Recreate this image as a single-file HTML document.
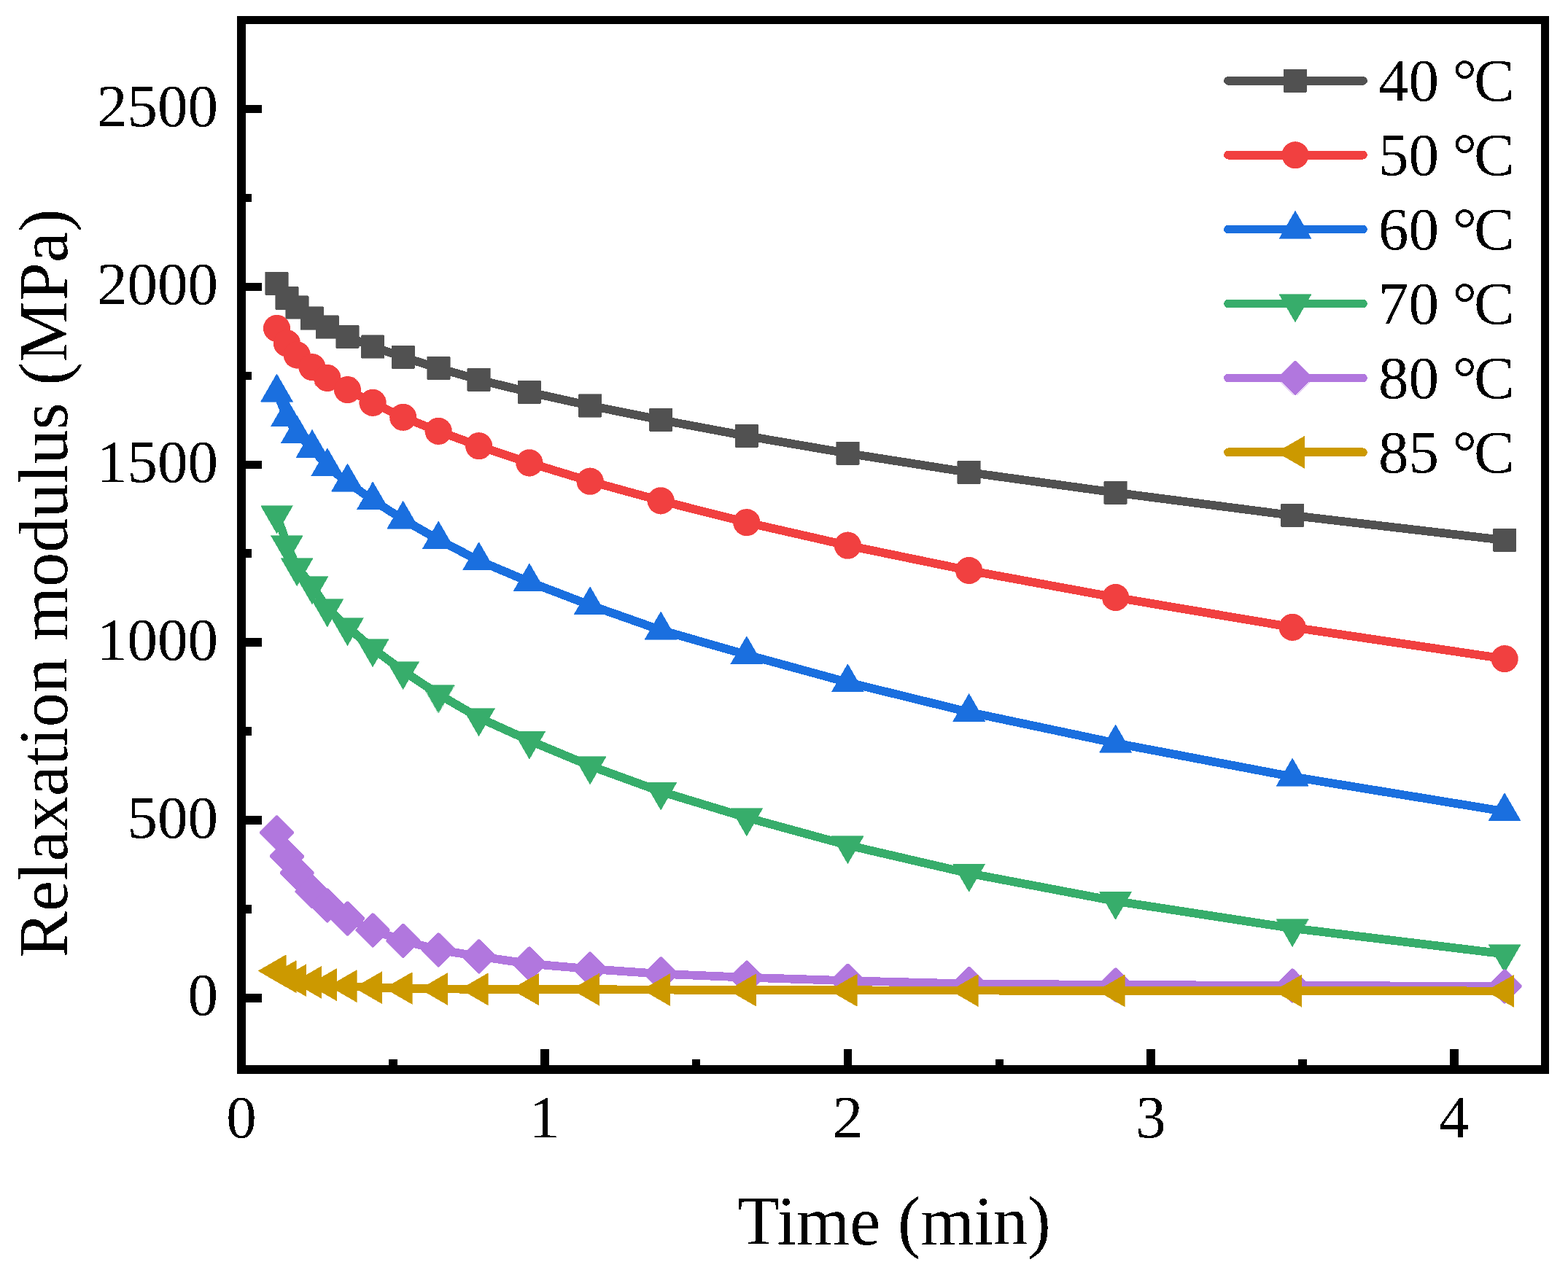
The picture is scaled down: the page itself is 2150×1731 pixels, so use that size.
<!DOCTYPE html><html><head><meta charset="utf-8"><title>Relaxation modulus vs time</title><style>html,body{margin:0;padding:0;background:#fff}svg{display:block}text{font-family:"Liberation Serif","Times New Roman",serif;fill:#000}</style></head><body>
<svg shape-rendering="crispEdges" width="2150" height="1731" viewBox="0 0 2150 1731">
<defs><filter id="bin" x="-5%" y="-5%" width="110%" height="110%"><feComponentTransfer><feFuncA type="discrete" tableValues="0 1"/></feComponentTransfer></filter></defs>
<rect width="2150" height="1731" fill="#fff"/>
<g><polyline points="379.5,389 393.4,408.8 407.2,421.7 428,436.7 448.8,448.7 476.5,461.8 511.1,475.7 552.7,489.8 601.2,505 656.6,520.9 725.9,538 809.1,556.4 906.1,576 1023.8,598 1162.4,621.8 1328.7,648 1529.6,675.7 1772.1,707 2063.1,741" fill="none" stroke="#515151" stroke-width="11.7" stroke-linejoin="round" stroke-linecap="butt"/>
<rect x="363.7" y="373.2" width="31.5" height="31.5" rx="1" fill="#515151" stroke="#515151" stroke-width="0.6"/>
<rect x="377.6" y="393.1" width="31.5" height="31.5" rx="1" fill="#515151" stroke="#515151" stroke-width="0.6"/>
<rect x="391.5" y="405.9" width="31.5" height="31.5" rx="1" fill="#515151" stroke="#515151" stroke-width="0.6"/>
<rect x="412.2" y="420.9" width="31.5" height="31.5" rx="1" fill="#515151" stroke="#515151" stroke-width="0.6"/>
<rect x="433" y="432.9" width="31.5" height="31.5" rx="1" fill="#515151" stroke="#515151" stroke-width="0.6"/>
<rect x="460.7" y="446.1" width="31.5" height="31.5" rx="1" fill="#515151" stroke="#515151" stroke-width="0.6"/>
<rect x="495.4" y="459.9" width="31.5" height="31.5" rx="1" fill="#515151" stroke="#515151" stroke-width="0.6"/>
<rect x="537" y="474.1" width="31.5" height="31.5" rx="1" fill="#515151" stroke="#515151" stroke-width="0.6"/>
<rect x="585.5" y="489.2" width="31.5" height="31.5" rx="1" fill="#515151" stroke="#515151" stroke-width="0.6"/>
<rect x="640.9" y="505.1" width="31.5" height="31.5" rx="1" fill="#515151" stroke="#515151" stroke-width="0.6"/>
<rect x="710.2" y="522.2" width="31.5" height="31.5" rx="1" fill="#515151" stroke="#515151" stroke-width="0.6"/>
<rect x="793.3" y="540.6" width="31.5" height="31.5" rx="1" fill="#515151" stroke="#515151" stroke-width="0.6"/>
<rect x="890.3" y="560.2" width="31.5" height="31.5" rx="1" fill="#515151" stroke="#515151" stroke-width="0.6"/>
<rect x="1008.1" y="582.2" width="31.5" height="31.5" rx="1" fill="#515151" stroke="#515151" stroke-width="0.6"/>
<rect x="1146.7" y="606" width="31.5" height="31.5" rx="1" fill="#515151" stroke="#515151" stroke-width="0.6"/>
<rect x="1312.9" y="632.2" width="31.5" height="31.5" rx="1" fill="#515151" stroke="#515151" stroke-width="0.6"/>
<rect x="1513.9" y="660" width="31.5" height="31.5" rx="1" fill="#515151" stroke="#515151" stroke-width="0.6"/>
<rect x="1756.3" y="691.2" width="31.5" height="31.5" rx="1" fill="#515151" stroke="#515151" stroke-width="0.6"/>
<rect x="2047.3" y="725.2" width="31.5" height="31.5" rx="1" fill="#515151" stroke="#515151" stroke-width="0.6"/>
</g>
<g><polyline points="379.5,450.4 393.4,470.8 407.2,486.9 428,503.6 448.8,518.5 476.5,534.6 511.1,552.4 552.7,572.3 601.2,591.4 656.6,611.7 725.9,634.9 809.1,660.2 906.1,686.8 1023.8,716.6 1162.4,748.2 1328.7,782.5 1529.6,819.5 1772.1,860.4 2063.1,903.6" fill="none" stroke="#F14040" stroke-width="11.7" stroke-linejoin="round" stroke-linecap="butt"/>
<circle cx="379.5" cy="450.4" r="18.3" fill="#F14040" stroke="#F14040" stroke-width="0.6"/>
<circle cx="393.4" cy="470.8" r="18.3" fill="#F14040" stroke="#F14040" stroke-width="0.6"/>
<circle cx="407.2" cy="486.9" r="18.3" fill="#F14040" stroke="#F14040" stroke-width="0.6"/>
<circle cx="428" cy="503.6" r="18.3" fill="#F14040" stroke="#F14040" stroke-width="0.6"/>
<circle cx="448.8" cy="518.5" r="18.3" fill="#F14040" stroke="#F14040" stroke-width="0.6"/>
<circle cx="476.5" cy="534.6" r="18.3" fill="#F14040" stroke="#F14040" stroke-width="0.6"/>
<circle cx="511.1" cy="552.4" r="18.3" fill="#F14040" stroke="#F14040" stroke-width="0.6"/>
<circle cx="552.7" cy="572.3" r="18.3" fill="#F14040" stroke="#F14040" stroke-width="0.6"/>
<circle cx="601.2" cy="591.4" r="18.3" fill="#F14040" stroke="#F14040" stroke-width="0.6"/>
<circle cx="656.6" cy="611.7" r="18.3" fill="#F14040" stroke="#F14040" stroke-width="0.6"/>
<circle cx="725.9" cy="634.9" r="18.3" fill="#F14040" stroke="#F14040" stroke-width="0.6"/>
<circle cx="809.1" cy="660.2" r="18.3" fill="#F14040" stroke="#F14040" stroke-width="0.6"/>
<circle cx="906.1" cy="686.8" r="18.3" fill="#F14040" stroke="#F14040" stroke-width="0.6"/>
<circle cx="1023.8" cy="716.6" r="18.3" fill="#F14040" stroke="#F14040" stroke-width="0.6"/>
<circle cx="1162.4" cy="748.2" r="18.3" fill="#F14040" stroke="#F14040" stroke-width="0.6"/>
<circle cx="1328.7" cy="782.5" r="18.3" fill="#F14040" stroke="#F14040" stroke-width="0.6"/>
<circle cx="1529.6" cy="819.5" r="18.3" fill="#F14040" stroke="#F14040" stroke-width="0.6"/>
<circle cx="1772.1" cy="860.4" r="18.3" fill="#F14040" stroke="#F14040" stroke-width="0.6"/>
<circle cx="2063.1" cy="903.6" r="18.3" fill="#F14040" stroke="#F14040" stroke-width="0.6"/>
</g>
<g><polyline points="379.5,538.3 393.4,572.2 407.2,595.2 428,614.8 448.8,640 476.5,661.3 511.1,686 552.7,712.5 601.2,740.2 656.6,769 725.9,798.2 809.1,830.1 906.1,864.3 1023.8,898 1162.4,936 1328.7,976.8 1529.6,1019.3 1772.1,1065.4 2063.1,1113" fill="none" stroke="#1A6FDF" stroke-width="11.7" stroke-linejoin="round" stroke-linecap="butt"/>
<polygon points="379.5,512.9 401.5,551 357.5,551" fill="#1A6FDF" stroke="#1A6FDF" stroke-width="0.6"/>
<polygon points="393.4,546.8 415.4,584.9 371.4,584.9" fill="#1A6FDF" stroke="#1A6FDF" stroke-width="0.6"/>
<polygon points="407.2,569.8 429.2,607.9 385.2,607.9" fill="#1A6FDF" stroke="#1A6FDF" stroke-width="0.6"/>
<polygon points="428,589.4 450,627.5 406,627.5" fill="#1A6FDF" stroke="#1A6FDF" stroke-width="0.6"/>
<polygon points="448.8,614.6 470.8,652.7 426.8,652.7" fill="#1A6FDF" stroke="#1A6FDF" stroke-width="0.6"/>
<polygon points="476.5,635.9 498.5,674 454.5,674" fill="#1A6FDF" stroke="#1A6FDF" stroke-width="0.6"/>
<polygon points="511.1,660.6 533.1,698.7 489.1,698.7" fill="#1A6FDF" stroke="#1A6FDF" stroke-width="0.6"/>
<polygon points="552.7,687.1 574.7,725.2 530.7,725.2" fill="#1A6FDF" stroke="#1A6FDF" stroke-width="0.6"/>
<polygon points="601.2,714.8 623.2,752.9 579.2,752.9" fill="#1A6FDF" stroke="#1A6FDF" stroke-width="0.6"/>
<polygon points="656.6,743.6 678.6,781.7 634.6,781.7" fill="#1A6FDF" stroke="#1A6FDF" stroke-width="0.6"/>
<polygon points="725.9,772.8 747.9,810.9 703.9,810.9" fill="#1A6FDF" stroke="#1A6FDF" stroke-width="0.6"/>
<polygon points="809.1,804.7 831.1,842.8 787.1,842.8" fill="#1A6FDF" stroke="#1A6FDF" stroke-width="0.6"/>
<polygon points="906.1,838.9 928.1,877 884.1,877" fill="#1A6FDF" stroke="#1A6FDF" stroke-width="0.6"/>
<polygon points="1023.8,872.6 1045.8,910.7 1001.8,910.7" fill="#1A6FDF" stroke="#1A6FDF" stroke-width="0.6"/>
<polygon points="1162.4,910.6 1184.4,948.7 1140.4,948.7" fill="#1A6FDF" stroke="#1A6FDF" stroke-width="0.6"/>
<polygon points="1328.7,951.4 1350.7,989.5 1306.7,989.5" fill="#1A6FDF" stroke="#1A6FDF" stroke-width="0.6"/>
<polygon points="1529.6,993.9 1551.6,1032 1507.6,1032" fill="#1A6FDF" stroke="#1A6FDF" stroke-width="0.6"/>
<polygon points="1772.1,1040 1794.1,1078.1 1750.1,1078.1" fill="#1A6FDF" stroke="#1A6FDF" stroke-width="0.6"/>
<polygon points="2063.1,1087.6 2085.1,1125.7 2041.1,1125.7" fill="#1A6FDF" stroke="#1A6FDF" stroke-width="0.6"/>
</g>
<g><polyline points="379.5,706.3 393.4,747.3 407.2,778.4 428,803.4 448.8,834.5 476.5,860.3 511.1,889.4 552.7,920.3 601.2,952.2 656.6,984.4 725.9,1015.8 809.1,1050.5 906.1,1085.7 1023.8,1121.4 1162.4,1159.3 1328.7,1197.9 1529.6,1236 1772.1,1273.2 2063.1,1308.5" fill="none" stroke="#37AD6B" stroke-width="11.7" stroke-linejoin="round" stroke-linecap="butt"/>
<polygon points="379.5,731.7 401.5,693.6 357.5,693.6" fill="#37AD6B" stroke="#37AD6B" stroke-width="0.6"/>
<polygon points="393.4,772.7 415.4,734.6 371.4,734.6" fill="#37AD6B" stroke="#37AD6B" stroke-width="0.6"/>
<polygon points="407.2,803.8 429.2,765.7 385.2,765.7" fill="#37AD6B" stroke="#37AD6B" stroke-width="0.6"/>
<polygon points="428,828.8 450,790.7 406,790.7" fill="#37AD6B" stroke="#37AD6B" stroke-width="0.6"/>
<polygon points="448.8,859.9 470.8,821.8 426.8,821.8" fill="#37AD6B" stroke="#37AD6B" stroke-width="0.6"/>
<polygon points="476.5,885.7 498.5,847.6 454.5,847.6" fill="#37AD6B" stroke="#37AD6B" stroke-width="0.6"/>
<polygon points="511.1,914.8 533.1,876.7 489.1,876.7" fill="#37AD6B" stroke="#37AD6B" stroke-width="0.6"/>
<polygon points="552.7,945.7 574.7,907.6 530.7,907.6" fill="#37AD6B" stroke="#37AD6B" stroke-width="0.6"/>
<polygon points="601.2,977.6 623.2,939.5 579.2,939.5" fill="#37AD6B" stroke="#37AD6B" stroke-width="0.6"/>
<polygon points="656.6,1009.8 678.6,971.7 634.6,971.7" fill="#37AD6B" stroke="#37AD6B" stroke-width="0.6"/>
<polygon points="725.9,1041.2 747.9,1003.1 703.9,1003.1" fill="#37AD6B" stroke="#37AD6B" stroke-width="0.6"/>
<polygon points="809.1,1075.9 831.1,1037.8 787.1,1037.8" fill="#37AD6B" stroke="#37AD6B" stroke-width="0.6"/>
<polygon points="906.1,1111.1 928.1,1073 884.1,1073" fill="#37AD6B" stroke="#37AD6B" stroke-width="0.6"/>
<polygon points="1023.8,1146.8 1045.8,1108.7 1001.8,1108.7" fill="#37AD6B" stroke="#37AD6B" stroke-width="0.6"/>
<polygon points="1162.4,1184.7 1184.4,1146.6 1140.4,1146.6" fill="#37AD6B" stroke="#37AD6B" stroke-width="0.6"/>
<polygon points="1328.7,1223.3 1350.7,1185.2 1306.7,1185.2" fill="#37AD6B" stroke="#37AD6B" stroke-width="0.6"/>
<polygon points="1529.6,1261.4 1551.6,1223.3 1507.6,1223.3" fill="#37AD6B" stroke="#37AD6B" stroke-width="0.6"/>
<polygon points="1772.1,1298.6 1794.1,1260.5 1750.1,1260.5" fill="#37AD6B" stroke="#37AD6B" stroke-width="0.6"/>
<polygon points="2063.1,1333.9 2085.1,1295.8 2041.1,1295.8" fill="#37AD6B" stroke="#37AD6B" stroke-width="0.6"/>
</g>
<g><polyline points="379.5,1142 393.4,1174.4 407.2,1197.3 428,1222.7 448.8,1241.8 476.5,1259.8 511.1,1275.8 552.7,1290.3 601.2,1302.8 656.6,1311.8 725.9,1321.9 809.1,1329.1 906.1,1335.8 1023.8,1340.7 1162.4,1345.2 1328.7,1349.5 1529.6,1350.9 1772.1,1351.9 2063.1,1352.9" fill="none" stroke="#B177DE" stroke-width="11.7" stroke-linejoin="round" stroke-linecap="butt"/>
<polygon points="378.4,1118.8 380.6,1118.8 402.7,1140.9 402.7,1143.1 380.6,1165.2 378.4,1165.2 356.3,1143.1 356.3,1140.9" fill="#B177DE" stroke="#B177DE" stroke-width="0.6"/>
<polygon points="392.3,1151.2 394.5,1151.2 416.6,1173.3 416.6,1175.5 394.5,1197.6 392.3,1197.6 370.2,1175.5 370.2,1173.3" fill="#B177DE" stroke="#B177DE" stroke-width="0.6"/>
<polygon points="406.1,1174.1 408.3,1174.1 430.4,1196.2 430.4,1198.4 408.3,1220.5 406.1,1220.5 384,1198.4 384,1196.2" fill="#B177DE" stroke="#B177DE" stroke-width="0.6"/>
<polygon points="426.9,1199.5 429.1,1199.5 451.2,1221.6 451.2,1223.8 429.1,1245.9 426.9,1245.9 404.8,1223.8 404.8,1221.6" fill="#B177DE" stroke="#B177DE" stroke-width="0.6"/>
<polygon points="447.7,1218.6 449.9,1218.6 472,1240.7 472,1242.9 449.9,1265 447.7,1265 425.6,1242.9 425.6,1240.7" fill="#B177DE" stroke="#B177DE" stroke-width="0.6"/>
<polygon points="475.4,1236.6 477.6,1236.6 499.7,1258.7 499.7,1260.9 477.6,1283 475.4,1283 453.3,1260.9 453.3,1258.7" fill="#B177DE" stroke="#B177DE" stroke-width="0.6"/>
<polygon points="510,1252.6 512.2,1252.6 534.3,1274.7 534.3,1276.9 512.2,1299 510,1299 487.9,1276.9 487.9,1274.7" fill="#B177DE" stroke="#B177DE" stroke-width="0.6"/>
<polygon points="551.6,1267.1 553.8,1267.1 575.9,1289.2 575.9,1291.4 553.8,1313.5 551.6,1313.5 529.5,1291.4 529.5,1289.2" fill="#B177DE" stroke="#B177DE" stroke-width="0.6"/>
<polygon points="600.1,1279.6 602.3,1279.6 624.4,1301.7 624.4,1303.9 602.3,1326 600.1,1326 578,1303.9 578,1301.7" fill="#B177DE" stroke="#B177DE" stroke-width="0.6"/>
<polygon points="655.5,1288.6 657.7,1288.6 679.8,1310.7 679.8,1312.9 657.7,1335 655.5,1335 633.4,1312.9 633.4,1310.7" fill="#B177DE" stroke="#B177DE" stroke-width="0.6"/>
<polygon points="724.8,1298.7 727,1298.7 749.1,1320.8 749.1,1323 727,1345.1 724.8,1345.1 702.7,1323 702.7,1320.8" fill="#B177DE" stroke="#B177DE" stroke-width="0.6"/>
<polygon points="808,1305.9 810.2,1305.9 832.3,1328 832.3,1330.2 810.2,1352.3 808,1352.3 785.9,1330.2 785.9,1328" fill="#B177DE" stroke="#B177DE" stroke-width="0.6"/>
<polygon points="905,1312.6 907.2,1312.6 929.3,1334.7 929.3,1336.9 907.2,1359 905,1359 882.9,1336.9 882.9,1334.7" fill="#B177DE" stroke="#B177DE" stroke-width="0.6"/>
<polygon points="1022.7,1317.5 1024.9,1317.5 1047,1339.6 1047,1341.8 1024.9,1363.9 1022.7,1363.9 1000.6,1341.8 1000.6,1339.6" fill="#B177DE" stroke="#B177DE" stroke-width="0.6"/>
<polygon points="1161.3,1322 1163.5,1322 1185.6,1344.1 1185.6,1346.3 1163.5,1368.4 1161.3,1368.4 1139.2,1346.3 1139.2,1344.1" fill="#B177DE" stroke="#B177DE" stroke-width="0.6"/>
<polygon points="1327.6,1326.3 1329.8,1326.3 1351.9,1348.4 1351.9,1350.6 1329.8,1372.7 1327.6,1372.7 1305.5,1350.6 1305.5,1348.4" fill="#B177DE" stroke="#B177DE" stroke-width="0.6"/>
<polygon points="1528.5,1327.7 1530.7,1327.7 1552.8,1349.8 1552.8,1352 1530.7,1374.1 1528.5,1374.1 1506.4,1352 1506.4,1349.8" fill="#B177DE" stroke="#B177DE" stroke-width="0.6"/>
<polygon points="1771,1328.7 1773.2,1328.7 1795.3,1350.8 1795.3,1353 1773.2,1375.1 1771,1375.1 1748.9,1353 1748.9,1350.8" fill="#B177DE" stroke="#B177DE" stroke-width="0.6"/>
<polygon points="2062,1329.7 2064.2,1329.7 2086.3,1351.8 2086.3,1354 2064.2,1376.1 2062,1376.1 2039.9,1354 2039.9,1351.8" fill="#B177DE" stroke="#B177DE" stroke-width="0.6"/>
</g>
<g><polyline points="379.5,1331.7 393.4,1339.6 407.2,1344.7 428,1347.4 448.8,1350.6 476.5,1352.6 511.1,1354.7 552.7,1355.5 601.2,1356.5 656.6,1356.8 725.9,1357 809.1,1357.2 906.1,1357.6 1023.8,1358 1162.4,1358.3 1328.7,1358.6 1529.6,1358.9 1772.1,1359.2 2063.1,1359.4" fill="none" stroke="#CC9900" stroke-width="11.7" stroke-linejoin="round" stroke-linecap="butt"/>
<polygon points="354.1,1331.7 392.2,1309.7 392.2,1353.7" fill="#CC9900" stroke="#CC9900" stroke-width="0.6"/>
<polygon points="368,1339.6 406.1,1317.6 406.1,1361.6" fill="#CC9900" stroke="#CC9900" stroke-width="0.6"/>
<polygon points="381.8,1344.7 419.9,1322.7 419.9,1366.7" fill="#CC9900" stroke="#CC9900" stroke-width="0.6"/>
<polygon points="402.6,1347.4 440.7,1325.4 440.7,1369.4" fill="#CC9900" stroke="#CC9900" stroke-width="0.6"/>
<polygon points="423.4,1350.6 461.5,1328.6 461.5,1372.6" fill="#CC9900" stroke="#CC9900" stroke-width="0.6"/>
<polygon points="451.1,1352.6 489.2,1330.6 489.2,1374.6" fill="#CC9900" stroke="#CC9900" stroke-width="0.6"/>
<polygon points="485.7,1354.7 523.8,1332.7 523.8,1376.7" fill="#CC9900" stroke="#CC9900" stroke-width="0.6"/>
<polygon points="527.3,1355.5 565.4,1333.5 565.4,1377.5" fill="#CC9900" stroke="#CC9900" stroke-width="0.6"/>
<polygon points="575.8,1356.5 613.9,1334.5 613.9,1378.5" fill="#CC9900" stroke="#CC9900" stroke-width="0.6"/>
<polygon points="631.2,1356.8 669.3,1334.8 669.3,1378.8" fill="#CC9900" stroke="#CC9900" stroke-width="0.6"/>
<polygon points="700.5,1357 738.6,1335 738.6,1379" fill="#CC9900" stroke="#CC9900" stroke-width="0.6"/>
<polygon points="783.7,1357.2 821.8,1335.2 821.8,1379.2" fill="#CC9900" stroke="#CC9900" stroke-width="0.6"/>
<polygon points="880.7,1357.6 918.8,1335.6 918.8,1379.6" fill="#CC9900" stroke="#CC9900" stroke-width="0.6"/>
<polygon points="998.4,1358 1036.5,1336 1036.5,1380" fill="#CC9900" stroke="#CC9900" stroke-width="0.6"/>
<polygon points="1137,1358.3 1175.1,1336.3 1175.1,1380.3" fill="#CC9900" stroke="#CC9900" stroke-width="0.6"/>
<polygon points="1303.3,1358.6 1341.4,1336.6 1341.4,1380.6" fill="#CC9900" stroke="#CC9900" stroke-width="0.6"/>
<polygon points="1504.2,1358.9 1542.3,1336.9 1542.3,1380.9" fill="#CC9900" stroke="#CC9900" stroke-width="0.6"/>
<polygon points="1746.7,1359.2 1784.8,1337.2 1784.8,1381.2" fill="#CC9900" stroke="#CC9900" stroke-width="0.6"/>
<polygon points="2037.7,1359.4 2075.8,1337.4 2075.8,1381.4" fill="#CC9900" stroke="#CC9900" stroke-width="0.6"/>
</g>
<g fill="#000">
<rect x="325" y="22" width="12" height="1451"/>
<rect x="325" y="22" width="1799" height="11"/>
<rect x="2113" y="22" width="11" height="1451"/>
<rect x="325" y="1461" width="1799" height="12"/>
<rect x="337" y="1363.2" width="22" height="11.5"/>
<rect x="337" y="1119.3" width="22" height="11.5"/>
<rect x="337" y="875.4" width="22" height="11.5"/>
<rect x="337" y="631.5" width="22" height="11.5"/>
<rect x="337" y="387.6" width="22" height="11.5"/>
<rect x="337" y="143.7" width="22" height="11.5"/>
<rect x="337" y="1241.2" width="8" height="11.5"/>
<rect x="337" y="997.3" width="8" height="11.5"/>
<rect x="337" y="753.4" width="8" height="11.5"/>
<rect x="337" y="509.5" width="8" height="11.5"/>
<rect x="337" y="265.6" width="8" height="11.5"/>
<rect x="325.2" y="1439" width="11.5" height="22"/>
<rect x="741" y="1439" width="11.5" height="22"/>
<rect x="1156.7" y="1439" width="11.5" height="22"/>
<rect x="1572.3" y="1439" width="11.5" height="22"/>
<rect x="1988" y="1439" width="11.5" height="22"/>
<rect x="533.1" y="1453" width="11.5" height="8"/>
<rect x="948.8" y="1453" width="11.5" height="8"/>
<rect x="1364.5" y="1453" width="11.5" height="8"/>
<rect x="1780.2" y="1453" width="11.5" height="8"/>
</g>
<g filter="url(#bin)">
<text x="299" y="1392.4" font-size="83" text-anchor="end">0</text>
<text x="299" y="1148.5" font-size="83" text-anchor="end">500</text>
<text x="299" y="904.6" font-size="83" text-anchor="end">1000</text>
<text x="299" y="660.7" font-size="83" text-anchor="end">1500</text>
<text x="299" y="416.8" font-size="83" text-anchor="end">2000</text>
<text x="299" y="173" font-size="83" text-anchor="end">2500</text>
<text x="331" y="1560" font-size="83" text-anchor="middle">0</text>
<text x="746.7" y="1560" font-size="83" text-anchor="middle">1</text>
<text x="1162.4" y="1560" font-size="83" text-anchor="middle">2</text>
<text x="1578.1" y="1560" font-size="83" text-anchor="middle">3</text>
<text x="1993.8" y="1560" font-size="83" text-anchor="middle">4</text>
<text x="1226" y="1706.6" font-size="94.5" text-anchor="middle">Time (min)</text>
<text transform="translate(91.7,799.8) rotate(-90)" x="0" y="0" font-size="94.8" text-anchor="middle">Relaxation modulus (MPa)</text>
</g>
<line x1="1684" y1="110.8" x2="1869" y2="110.8" stroke="#515151" stroke-width="11.7" stroke-linecap="round"/>
<rect x="1760.2" y="95" width="31.5" height="31.5" rx="1" fill="#515151" stroke="#515151" stroke-width="0.6"/>
<text x="1890" y="138.4" font-size="83" filter="url(#bin)">40 <tspan dx="-2">°</tspan><tspan dx="-4">C</tspan></text>
<line x1="1684" y1="212.7" x2="1869" y2="212.7" stroke="#F14040" stroke-width="11.7" stroke-linecap="round"/>
<circle cx="1776" cy="212.7" r="18.3" fill="#F14040" stroke="#F14040" stroke-width="0.6"/>
<text x="1890" y="240.3" font-size="83" filter="url(#bin)">50 <tspan dx="-2">°</tspan><tspan dx="-4">C</tspan></text>
<line x1="1684" y1="314.6" x2="1869" y2="314.6" stroke="#1A6FDF" stroke-width="11.7" stroke-linecap="round"/>
<polygon points="1776,289.2 1798,327.3 1754,327.3" fill="#1A6FDF" stroke="#1A6FDF" stroke-width="0.6"/>
<text x="1890" y="342.2" font-size="83" filter="url(#bin)">60 <tspan dx="-2">°</tspan><tspan dx="-4">C</tspan></text>
<line x1="1684" y1="416.5" x2="1869" y2="416.5" stroke="#37AD6B" stroke-width="11.7" stroke-linecap="round"/>
<polygon points="1776,441.9 1798,403.8 1754,403.8" fill="#37AD6B" stroke="#37AD6B" stroke-width="0.6"/>
<text x="1890" y="444.1" font-size="83" filter="url(#bin)">70 <tspan dx="-2">°</tspan><tspan dx="-4">C</tspan></text>
<line x1="1684" y1="518.4" x2="1869" y2="518.4" stroke="#B177DE" stroke-width="11.7" stroke-linecap="round"/>
<polygon points="1774.9,495.2 1777.1,495.2 1799.2,517.3 1799.2,519.5 1777.1,541.6 1774.9,541.6 1752.8,519.5 1752.8,517.3" fill="#B177DE" stroke="#B177DE" stroke-width="0.6"/>
<text x="1890" y="546" font-size="83" filter="url(#bin)">80 <tspan dx="-2">°</tspan><tspan dx="-4">C</tspan></text>
<line x1="1684" y1="620.3" x2="1869" y2="620.3" stroke="#CC9900" stroke-width="11.7" stroke-linecap="round"/>
<polygon points="1750.6,620.3 1788.7,598.3 1788.7,642.3" fill="#CC9900" stroke="#CC9900" stroke-width="0.6"/>
<text x="1890" y="647.9" font-size="83" filter="url(#bin)">85 <tspan dx="-2">°</tspan><tspan dx="-4">C</tspan></text>
</svg></body></html>
